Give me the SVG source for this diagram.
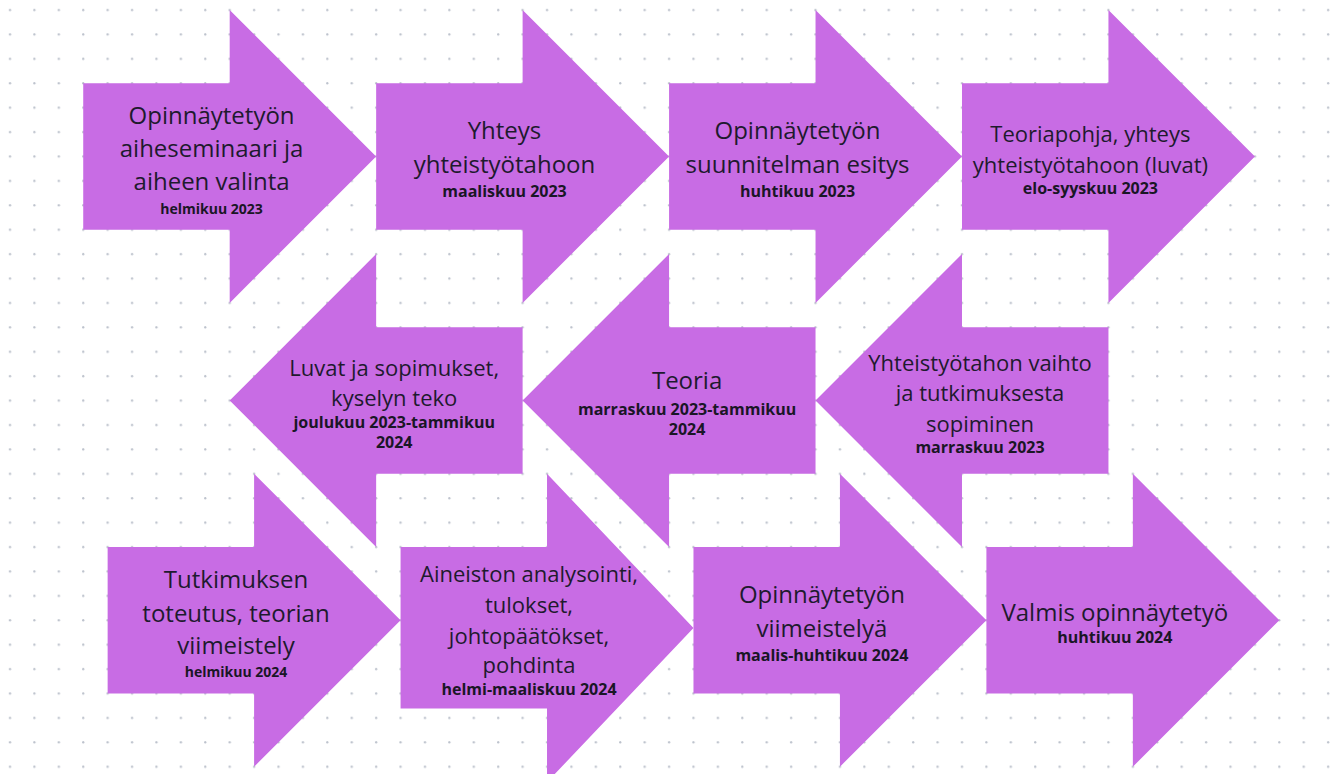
<svg xmlns="http://www.w3.org/2000/svg" width="1342" height="774" viewBox="0 0 1342 774">
  <defs>
    <pattern id="dots" patternUnits="userSpaceOnUse" x="0" y="0" width="24.41" height="24.41">
      <circle cx="10" cy="10" r="1.15" fill="#bcc2cc"/>
    </pattern>
  </defs>
  <style>
    .arrow { fill: #c86ce4; }
    .t { font-family: "Open Sans", "Noto Sans", sans-serif; fill: #1e1a2e; text-anchor: middle; }
    .t24 { font-size: 24px; }
    .t22 { font-size: 22px; }
    .d { font-family: "Open Sans", "Noto Sans", sans-serif; font-weight: 700; fill: #1a1626; text-anchor: middle; }
    .d16 { font-size: 16px; }
    .d14 { font-size: 14px; }
  </style>
  <rect x="0" y="0" width="1342" height="774" fill="#ffffff"/>
  <rect x="0" y="0" width="1342" height="774" fill="url(#dots)"/>

  <g id="connectors"/>

  <!-- Row 1 -->
  <g id="node-a1">
    <polygon class="arrow" points="83.23,83.23 229.69,83.23 229.69,10 376.15,156.46 229.69,302.92 229.69,229.69 83.23,229.69"/>
    <text class="t t24" x="211.6" y="124">Opinnäytetyön</text>
    <text class="t t24" x="211.6" y="157.3">aiheseminaari ja</text>
    <text class="t t24" x="211.6" y="190">aiheen valinta</text>
    <text class="d d14" x="211.6" y="214">helmikuu 2023</text>
  </g>
  <g id="node-a2">
    <polygon class="arrow" points="376.15,83.23 522.61,83.23 522.61,10 669.07,156.46 522.61,302.92 522.61,229.69 376.15,229.69"/>
    <text class="t t24" x="504.5" y="139.3">Yhteys</text>
    <text class="t t24" x="504.5" y="173.3">yhteistyötahoon</text>
    <text class="d d16" x="504.5" y="196.7">maaliskuu 2023</text>
  </g>
  <g id="node-a3">
    <polygon class="arrow" points="669.07,83.23 815.53,83.23 815.53,10 961.99,156.46 815.53,302.92 815.53,229.69 669.07,229.69"/>
    <text class="t t24" x="797.5" y="139.3">Opinnäytetyön</text>
    <text class="t t24" x="797.5" y="173.3">suunnitelman esitys</text>
    <text class="d d16" x="797.5" y="196.7">huhtikuu 2023</text>
  </g>
  <g id="node-a4">
    <polygon class="arrow" points="961.99,83.23 1108.45,83.23 1108.45,10 1254.91,156.46 1108.45,302.92 1108.45,229.69 961.99,229.69"/>
    <text class="t t22" x="1090.4" y="141.7">Teoriapohja, yhteys</text>
    <text class="t t22" x="1090.4" y="173.3">yhteistyötahoon (luvat)</text>
    <text class="d d16" x="1090.4" y="194">elo-syyskuu 2023</text>
  </g>

  <!-- Row 2 (left-pointing) -->
  <g id="node-b3">
    <polygon class="arrow" points="815.53,400.56 961.99,254.1 961.99,327.33 1108.45,327.33 1108.45,473.79 961.99,473.79 961.99,547.02"/>
    <text class="t t22" x="980" y="370.7">Yhteistyötahon vaihto</text>
    <text class="t t22" x="980" y="400.7">ja tutkimuksesta</text>
    <text class="t t22" x="980" y="431.7">sopiminen</text>
    <text class="d d16" x="980" y="452.7">marraskuu 2023</text>
  </g>
  <g id="node-b2">
    <polygon class="arrow" points="522.61,400.56 669.07,254.1 669.07,327.33 815.53,327.33 815.53,473.79 669.07,473.79 669.07,547.02"/>
    <text class="t t24" x="687.1" y="389">Teoria</text>
    <text class="d d16" x="687.1" y="415">marraskuu 2023-tammikuu</text>
    <text class="d d16" x="687.1" y="435">2024</text>
  </g>
  <g id="node-b1">
    <polygon class="arrow" points="229.69,400.56 376.15,254.1 376.15,327.33 522.61,327.33 522.61,473.79 376.15,473.79 376.15,547.02"/>
    <text class="t t22" x="394.2" y="375.7">Luvat ja sopimukset,</text>
    <text class="t t22" x="394.2" y="405.7">kyselyn teko</text>
    <text class="d d16" x="394.2" y="428.3">joulukuu 2023-tammikuu</text>
    <text class="d d16" x="394.2" y="448.3">2024</text>
  </g>

  <!-- Row 3 -->
  <g id="node-c1">
    <polygon class="arrow" points="107.64,547.02 254.1,547.02 254.1,473.79 400.56,620.25 254.1,766.71 254.1,693.48 107.64,693.48"/>
    <text class="t t24" x="236" y="588.3">Tutkimuksen</text>
    <text class="t t24" x="236" y="621.7">toteutus, teorian</text>
    <text class="t t24" x="236" y="654.3">viimeistely</text>
    <text class="d d14" x="236" y="677.3">helmikuu 2024</text>
  </g>
  <g id="node-c2">
    <polygon class="arrow" points="400.56,547.02 547.02,547.02 547.02,473.79 693.48,628 547.02,782.2 547.02,708.5 400.56,708.5"/>
    <text class="t t22" x="529" y="581.7">Aineiston analysointi,</text>
    <text class="t t22" x="529" y="612.7">tulokset,</text>
    <text class="t t22" x="529" y="644.3">johtopäätökset,</text>
    <text class="t t22" x="529" y="673.3">pohdinta</text>
    <text class="d d16" x="529" y="695">helmi-maaliskuu 2024</text>
  </g>
  <g id="node-c3">
    <polygon class="arrow" points="693.48,547.02 839.94,547.02 839.94,473.79 986.4,620.25 839.94,766.71 839.94,693.48 693.48,693.48"/>
    <text class="t t24" x="821.9" y="602.7">Opinnäytetyön</text>
    <text class="t t24" x="821.9" y="636.7">viimeistelyä</text>
    <text class="d d16" x="821.9" y="660.7">maalis-huhtikuu 2024</text>
  </g>
  <g id="node-c4">
    <polygon class="arrow" points="986.4,547.02 1132.86,547.02 1132.86,473.79 1279.32,620.25 1132.86,766.71 1132.86,693.48 986.4,693.48"/>
    <text class="t t24" x="1114.8" y="620.7">Valmis opinnäytetyö</text>
    <text class="d d16" x="1114.8" y="643.3">huhtikuu 2024</text>
  </g>
</svg>
